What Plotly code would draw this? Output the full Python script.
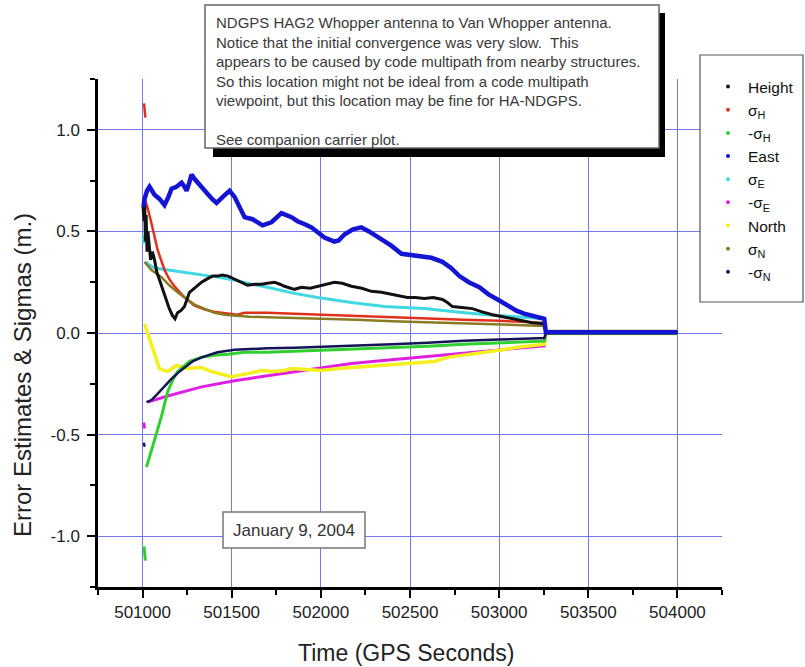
import plotly.graph_objects as go

# ---------------- data ----------------
height_t = [501003, 501008, 501012, 501016, 501020, 501025, 501030, 501038, 501045, 501055,
            501067, 501080, 501095, 501106, 501120, 501135, 501150, 501168, 501182, 501196,
            501215, 501235, 501250, 501263, 501290, 501331, 501360, 501392, 501420, 501448,
            501480, 501516, 501550, 501589, 501630, 501667, 501700, 501740, 501770, 501796,
            501852, 501891, 501940, 501981, 502030, 502076, 502120, 502171, 502230, 502283,
            502340, 502395, 502440, 502485, 502530, 502580, 502630, 502682, 502710, 502738,
            502790, 502850, 502900, 502962, 503020, 503074, 503130, 503186, 503253, 503262,
            503400, 503600, 503800, 504000]
height_v = [0.62, 0.55, 0.64, 0.45, 0.58, 0.40, 0.50, 0.42, 0.36, 0.40,
            0.36, 0.30, 0.26, 0.23, 0.19, 0.15, 0.12, 0.085, 0.07, 0.10,
            0.11, 0.13, 0.17, 0.20, 0.22, 0.25, 0.265, 0.28, 0.28, 0.285,
            0.28, 0.265, 0.25, 0.235, 0.24, 0.24, 0.245, 0.25, 0.24, 0.23,
            0.215, 0.225, 0.22, 0.23, 0.24, 0.25, 0.245, 0.23, 0.22, 0.205,
            0.20, 0.19, 0.185, 0.175, 0.175, 0.17, 0.175, 0.165, 0.15, 0.13,
            0.125, 0.12, 0.105, 0.09, 0.08, 0.07, 0.06, 0.05, 0.045, 0.003,
            0.002, 0.003, 0.002, 0.002]

east_t = [501005, 501011, 501025, 501039, 501053, 501067, 501095, 501123, 501145, 501163,
          501190, 501219, 501235, 501247, 501262, 501275, 501290, 501308, 501335, 501359,
          501390, 501415, 501450, 501488, 501516, 501545, 501572, 501617, 501673, 501723,
          501750, 501779, 501835, 501869, 501910, 501947, 502020, 502076, 502100, 502132,
          502180, 502227, 502270, 502317, 502395, 502452, 502500, 502564, 502620, 502682,
          502730, 502777, 502830, 502889, 502940, 503001, 503050, 503096, 503140, 503186,
          503220, 503253, 503262, 503400, 503600, 503800, 504000]
east_v = [0.62, 0.66, 0.70, 0.72, 0.70, 0.68, 0.66, 0.63, 0.67, 0.71,
          0.72, 0.74, 0.72, 0.70, 0.74, 0.78, 0.76, 0.74, 0.71, 0.69,
          0.66, 0.64, 0.67, 0.70, 0.67, 0.62, 0.57, 0.56, 0.53, 0.545,
          0.57, 0.59, 0.57, 0.55, 0.535, 0.52, 0.47, 0.45, 0.455, 0.485,
          0.51, 0.52, 0.50, 0.475, 0.43, 0.39, 0.385, 0.38, 0.37, 0.35,
          0.32, 0.28, 0.25, 0.225, 0.19, 0.16, 0.135, 0.11, 0.095, 0.085,
          0.075, 0.07, 0.004, 0.004, 0.004, 0.004, 0.004]

north_t = [501011, 501025, 501039, 501060, 501095, 501140, 501190, 501252, 501331, 501387,
           501450, 501499, 501589, 501667, 501740, 501796, 501835, 501900, 502000, 502100,
           502171, 502250, 502350, 502452, 502550, 502637, 502710, 502800, 502917, 503000,
           503102, 503180, 503253, 503262, 503400, 503600, 503800, 504000]
north_v = [0.045, 0.01, -0.03, -0.09, -0.175, -0.19, -0.16, -0.175, -0.17, -0.19,
           -0.205, -0.215, -0.20, -0.185, -0.19, -0.185, -0.175, -0.18, -0.185, -0.175,
           -0.17, -0.165, -0.16, -0.15, -0.145, -0.14, -0.12, -0.11, -0.095, -0.085,
           -0.07, -0.062, -0.055, -0.002, -0.002, -0.002, -0.002, -0.002]

sigH_t = [501008, 501016, None, 501012, 501030, 501050, 501084, 501123, 501150, 501179,
          501235, 501291, 501350, 501400, 501470, 501530, 501572, 501700, 501852, 502000,
          502200, 502400, 502580, 502800, 503000, 503253, 503262, 503400, 503600, 503800,
          504000]
sigH_v = [1.13, 1.06, None, 0.66, 0.61, 0.54, 0.41, 0.31, 0.265, 0.23,
          0.175, 0.135, 0.115, 0.105, 0.095, 0.09, 0.10, 0.10, 0.095, 0.09,
          0.085, 0.075, 0.07, 0.065, 0.06, 0.05, 0.008, 0.008, 0.008, 0.008,
          0.008]

msigH_t = [501008, 501016, None, 501022, 501045, 501067, 501106, 501140, 501170, 501196,
           501263, 501330, 501400, 501480, 501572, 501700, 501852, 502000, 502200, 502400,
           502600, 502800, 503000, 503253, 503262, 503400, 503600, 503800, 504000]
msigH_v = [-1.05, -1.12, None, -0.66, -0.59, -0.53, -0.41, -0.29, -0.23, -0.19,
           -0.14, -0.12, -0.11, -0.105, -0.095, -0.095, -0.09, -0.085, -0.08, -0.07,
           -0.065, -0.055, -0.05, -0.04, -0.002, -0.002, -0.002, -0.002, -0.002]

sigE_t = [501004, 501008, None, 501020, 501030, 501067, 501150, 501235, 501320, 501420,
          501520, 501611, 501700, 501796, 501852, 501981, 502171, 502356, 502580, 502750,
          502928, 503100, 503253, 503262, 503400, 503600, 503800, 504000]
sigE_v = [0.48, 0.44, None, 0.35, 0.34, 0.32, 0.31, 0.30, 0.29, 0.275,
          0.26, 0.24, 0.225, 0.205, 0.195, 0.175, 0.15, 0.13, 0.12, 0.105,
          0.09, 0.08, 0.07, 0.006, 0.006, 0.006, 0.006, 0.006]

msigE_t = [501006, 501012, None, 501028, 501140, 501331, 501516, 501700, 501852, 502000,
           502171, 502350, 502541, 502700, 502917, 503100, 503253, 503262, 503400, 503600,
           503800, 504000]
msigE_v = [-0.44, -0.47, None, -0.34, -0.31, -0.265, -0.235, -0.21, -0.19, -0.17,
           -0.15, -0.135, -0.12, -0.105, -0.088, -0.075, -0.063, -0.003, -0.003, -0.003,
           -0.003, -0.003]

sigN_t = [501011, 501050, 501106, 501150, 501196, 501250, 501291, 501350, 501404, 501460,
          501516, 501600, 501700, 501852, 502000, 502200, 502400, 502600, 502800, 503000,
          503253, 503262, 503400, 503600, 503800, 504000]
sigN_v = [0.35, 0.31, 0.275, 0.235, 0.20, 0.165, 0.14, 0.118, 0.10, 0.09,
          0.085, 0.08, 0.078, 0.075, 0.07, 0.065, 0.058, 0.052, 0.047, 0.042,
          0.035, 0.01, 0.01, 0.01, 0.01, 0.01]

msigN_t = [501006, 501012, None, 501022, 501050, 501084, 501120, 501163, 501200, 501235,
           501280, 501331, 501420, 501516, 501600, 501700, 501852, 502000, 502200, 502400,
           502600, 502693, 502800, 503000, 503253, 503262, 503400, 503600, 503800, 504000]
msigN_v = [-0.54, -0.56, None, -0.34, -0.33, -0.30, -0.265, -0.225, -0.195, -0.17,
           -0.14, -0.12, -0.095, -0.083, -0.078, -0.075, -0.072, -0.068, -0.062, -0.055,
           -0.048, -0.043, -0.038, -0.032, -0.025, 0.0, 0.0, 0.0, 0.0, 0.0]

legend_names = ["Height", "σ<sub>H</sub>", "-σ<sub>H</sub>", "East", "σ<sub>E</sub>",
                "-σ<sub>E</sub>", "North", "σ<sub>N</sub>", "-σ<sub>N</sub>"]
y_tickvals = [-1.0, -0.5, 0.0, 0.5, 1.0]
y_ticktext = ["-1.0", "-0.5", "0.0", "0.5", "1.0"]

note_lines = [
    "NDGPS HAG2 Whopper antenna to Van Whopper antenna.",
    "Notice that the initial convergence was very slow.  This",
    "appears to be caused by code multipath from nearby structures.",
    "So this location might not be ideal from a code multipath",
    "viewpoint, but this location may be fine for HA-NDGPS.",
    "",
    "See companion carrier plot.",
]
date_text = "January 9, 2004"

# ---------------- styling ----------------
C = {
    "Height": "#111111", "sigH": "#e0301c", "msigH": "#30d030", "East": "#1414d2",
    "sigE": "#40d8e2", "msigE": "#e020e0", "North": "#f4f020", "sigN": "#8a7a22",
    "msigN": "#141456",
}
FONT = "Arial, Liberation Sans, sans-serif"

W, H = 805, 667
L, R, T, B = 98, 722, 79, 587


def px(x):
    return (x - L) / (R - L)


def py(y):
    return (B - y) / (B - T)


fig = go.Figure()

series = [
    (sigE_t, sigE_v, C["sigE"], 3.0),
    (msigE_t, msigE_v, C["msigE"], 3.0),
    (north_t, north_v, C["North"], 3.5),
    (sigH_t, sigH_v, C["sigH"], 2.5),
    (msigH_t, msigH_v, C["msigH"], 3.0),
    (sigN_t, sigN_v, C["sigN"], 2.5),
    (msigN_t, msigN_v, C["msigN"], 2.5),
    (height_t, height_v, C["Height"], 3.0),
    (east_t, east_v, C["East"], 4.5),
]
for t, v, col, w in series:
    fig.add_trace(go.Scatter(x=t, y=v, mode="lines", line=dict(color=col, width=w),
                             connectgaps=False, showlegend=False, hoverinfo="skip"))

legend_cols = [C["Height"], C["sigH"], C["msigH"], C["East"], C["sigE"], C["msigE"],
               C["North"], C["sigN"], C["msigN"]]
for name, col in zip(legend_names, legend_cols):
    fig.add_trace(go.Scatter(x=[None], y=[None], mode="markers", name=name,
                             marker=dict(size=4, color=col)))

axis_common = dict(
    showline=True, linecolor="black", linewidth=2.5, ticks="outside",
    tickcolor="black", tickwidth=2, ticklen=8,
    showgrid=True, gridcolor="#7878ec", gridwidth=1, zeroline=False,
    tickfont=dict(family=FONT, size=17, color="#222222"),
)

fig.update_layout(
    width=W, height=H, autosize=False,
    margin=dict(l=L, r=W - R, t=T, b=H - B, autoexpand=False),
    paper_bgcolor="white", plot_bgcolor="white",
    xaxis=dict(range=[500750, 504250], dtick=500, tick0=501000, tickformat="d",
               minor=dict(dtick=250, ticks="outside", ticklen=5, tickcolor="black",
                          tickwidth=2, showgrid=False),
               **axis_common),
    yaxis=dict(range=[-1.25, 1.25], tickvals=y_tickvals, ticktext=y_ticktext,
               ticklabelstandoff=4,
               minor=dict(tickvals=[-1.25, -0.75, -0.25, 0.25, 0.75, 1.25], ticks="outside",
                          ticklen=5, tickcolor="black", tickwidth=2, showgrid=False),
               **axis_common),
    legend=dict(x=px(708), y=py(70), xanchor="left", yanchor="top",
                bgcolor="rgba(0,0,0,0)", borderwidth=0,
                font=dict(family=FONT, size=15.5, color="#111111"),
                itemwidth=30),
    font=dict(family=FONT),
    showlegend=True,
)

shapes = [
    # note box shadow + box
    dict(type="rect", xref="paper", yref="paper", x0=px(213), x1=px(665), y0=py(157), y1=py(13),
         fillcolor="black", line=dict(width=0), layer="above"),
    dict(type="rect", xref="paper", yref="paper", x0=px(205), x1=px(659), y0=py(148), y1=py(5),
         fillcolor="white", line=dict(color="#666666", width=1.5), layer="above"),
    # date box
    dict(type="rect", xref="paper", yref="paper", x0=px(223), x1=px(365), y0=py(548), y1=py(512),
         fillcolor="white", line=dict(color="#777777", width=1.5), layer="above"),
    # legend frame
    dict(type="rect", xref="paper", yref="paper", x0=px(700), x1=px(803), y0=py(302), y1=py(55),
         fillcolor="white", line=dict(color="#555555", width=1.2), layer="above"),
]
fig.update_layout(shapes=shapes)

fig.add_annotation(xref="paper", yref="paper", x=px(214), y=py(12), xanchor="left", yanchor="top",
                   text="<br>".join(note_lines), showarrow=False, align="left",
                   font=dict(family=FONT, size=15, color="#3a3a3a"))
fig.add_annotation(xref="paper", yref="paper", x=px(294), y=py(530), xanchor="center",
                   yanchor="middle", text=date_text, showarrow=False,
                   font=dict(family=FONT, size=17, color="#333333"))
fig.add_annotation(xref="paper", yref="paper", x=px(406), y=py(653), xanchor="center",
                   yanchor="middle", text="Time (GPS Seconds)", showarrow=False,
                   font=dict(family=FONT, size=23, color="#222222"))
fig.add_annotation(xref="paper", yref="paper", x=px(22), y=py(375), xanchor="center",
                   yanchor="middle", text="Error Estimates & Sigmas (m.)", textangle=-90,
                   showarrow=False, font=dict(family=FONT, size=24, color="#222222"))

fig.write_html(
    "out.html",
    config={"displayModeBar": False, "responsive": False},
    post_script="document.body.style.margin='0';document.body.style.overflow='hidden';",
)
